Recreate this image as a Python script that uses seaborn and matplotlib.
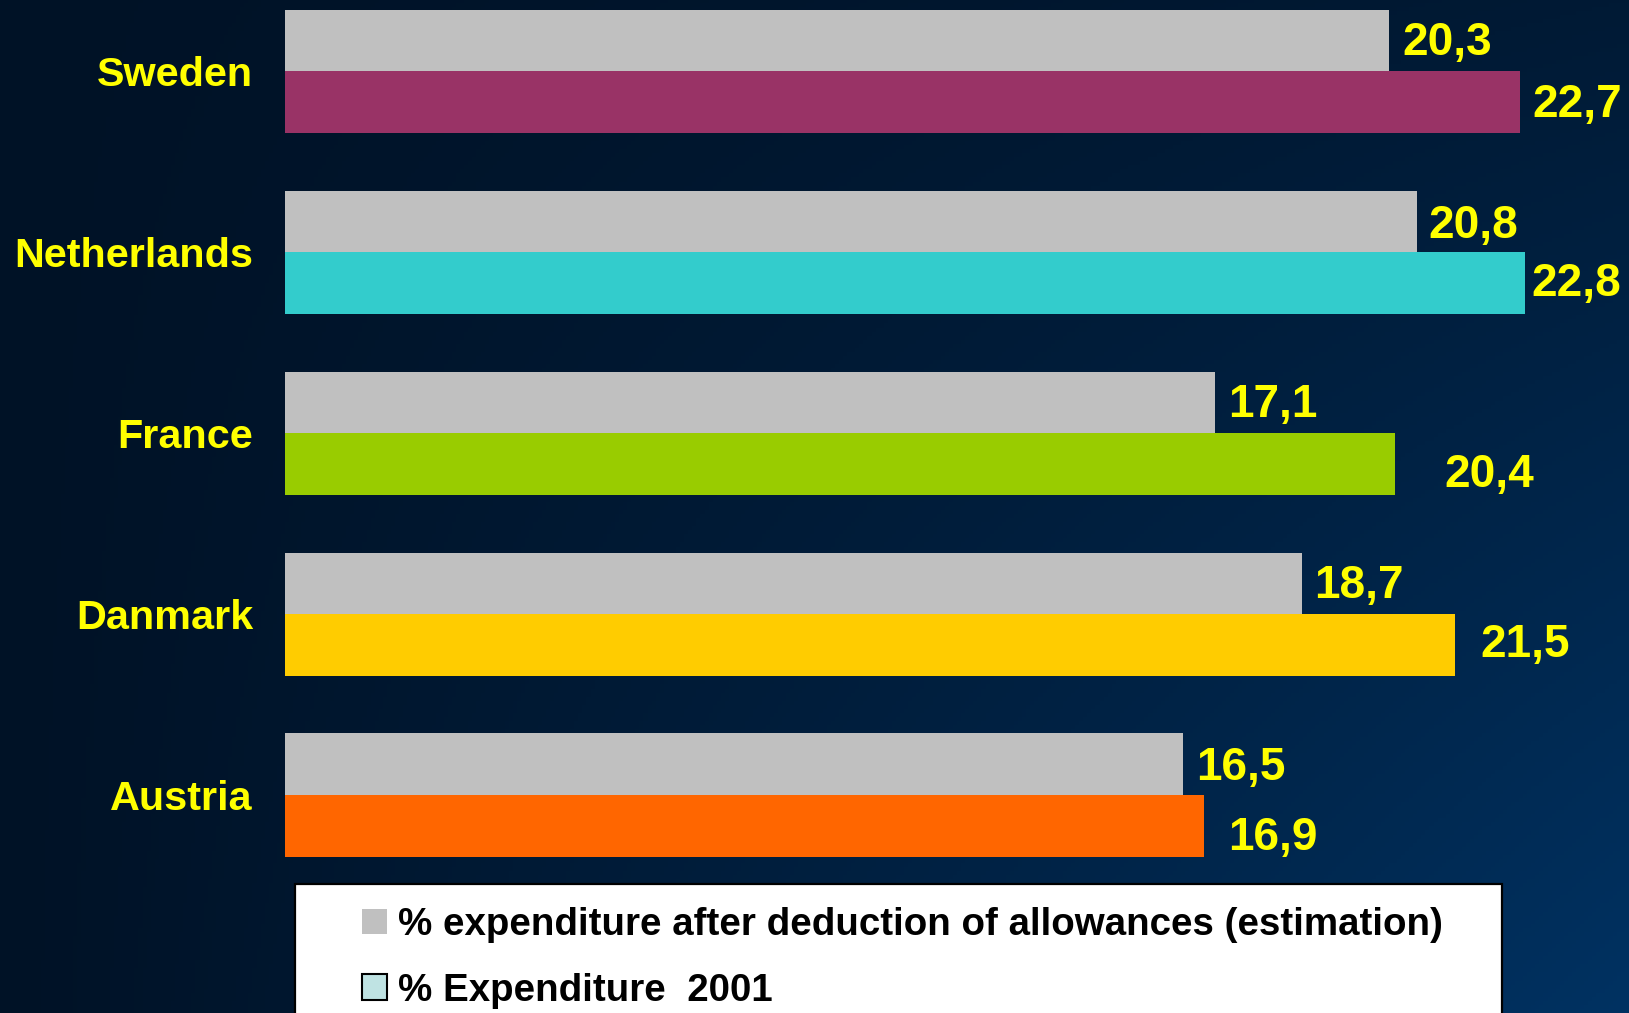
import numpy as np
import pandas as pd
import seaborn as sns
import matplotlib.pyplot as plt
from matplotlib.patches import Patch, Rectangle

# data
countries = ['Sweden', 'Netherlands', 'France', 'Danmark', 'Austria']
after_deduction = [20.3, 20.8, 17.1, 18.7, 16.5]
expenditure_2001 = [22.7, 22.8, 20.4, 21.5, 16.9]
series_names = ['% expenditure after deduction of allowances (estimation)',
                '% Expenditure  2001']
country_colors = ['#993366', '#33cccc', '#99cc00', '#ffcc00', '#ff6600']

# label nudges in pixels (dx from bar end, dy down from bar centre)
nudge_after = [(13, -2), (12, 0), (13, -2), (12, -2), (14, -1)]
nudge_2001 = [(12, -2), (6, -4), (50, 6), (26, -5), (24, 7)]

df = pd.DataFrame({
    'country': countries * 2,
    'value': after_deduction + expenditure_2001,
    'series': [series_names[0]] * 5 + [series_names[1]] * 5,
})

sns.set_theme(style='white')
plt.rcParams['font.family'] = ['Liberation Sans', 'DejaVu Sans']

W, H, DPI = 1629, 1013, 100
fig = plt.figure(figsize=(W / DPI, H / DPI), dpi=DPI)

# dark blue slide background
bg = fig.add_axes([0, 0, 1, 1])
xx, yy = np.meshgrid(np.linspace(0, 1, 400), np.linspace(0, 1, 250))
w = np.clip(xx, 0, 1) ** 1.1 * (0.25 + 0.75 * yy)
dark = np.array([0, 18, 38]) / 255
light = np.array([0, 50, 98]) / 255
img = dark[None, None, :] * (1 - w[..., None]) + light[None, None, :] * w[..., None]
bg.imshow(img, aspect='auto', extent=[0, 1, 0, 1], origin='upper')
bg.set_axis_off()

ax = fig.add_axes([285 / W, 1 - 884 / H, 1 - 285 / W, 884 / H])
ax.set_facecolor('none')
sns.barplot(data=df, y='country', x='value', hue='series', orient='h',
            palette=['#c0c0c0', '#bfe3e3'], width=0.685, gap=0,
            saturation=1, legend=False, linewidth=0, ax=ax)

# second series gets one colour per country
for patch, col in zip(ax.containers[1], country_colors):
    patch.set_facecolor(col)

ax.set_xlim(0, (W - 285) / 54.4)
ax.set_ylim(4.489, -0.395)
ax.set_xlabel('')
ax.set_ylabel('')
ax.set_xticks([])
sns.despine(ax=ax, left=True, bottom=True)
ax.tick_params(axis='y', length=0, pad=23)
for lab in ax.get_yticklabels():
    lab.set_color('#ffff00')
    lab.set_fontsize(29.8)
    lab.set_fontweight('bold')

px = 0.72  # pixels -> points
for cont, vals, nudges in [(ax.containers[0], after_deduction, nudge_after),
                           (ax.containers[1], expenditure_2001, nudge_2001)]:
    for patch, v, (dx, dy) in zip(cont, vals, nudges):
        yc = patch.get_y() + patch.get_height() / 2
        ax.annotate(f'{v:.1f}'.replace('.', ','), xy=(patch.get_width(), yc),
                    xytext=(dx * px, -(dy + 16.5) * px), textcoords='offset points',
                    ha='left', va='baseline', color='#ffff00', fontsize=33,
                    fontweight='bold', annotation_clip=False)

# white legend panel running off the bottom of the slide
fig.patches.append(Rectangle((295 / W, -0.05), (1502 - 295) / W, (1013 - 884) / H + 0.05,
                             transform=fig.transFigure, facecolor='white',
                             edgecolor='black', linewidth=1.6, zorder=5))
handles = [Patch(facecolor='#c0c0c0', edgecolor='none'),
           Patch(facecolor='#bfe3e3', edgecolor='black', linewidth=1.5)]
leg = fig.legend(handles, series_names, loc='upper left',
                 bbox_to_anchor=(362 / W, 1 - 907 / H), frameon=False,
                 prop={'size': 27.7, 'weight': 'bold'}, handlelength=0.65,
                 handleheight=0.65, handletextpad=0.29, labelspacing=0.77,
                 borderpad=0, borderaxespad=0, labelcolor='black')
leg.set_zorder(6)

fig.savefig('out.png', dpi=DPI)
